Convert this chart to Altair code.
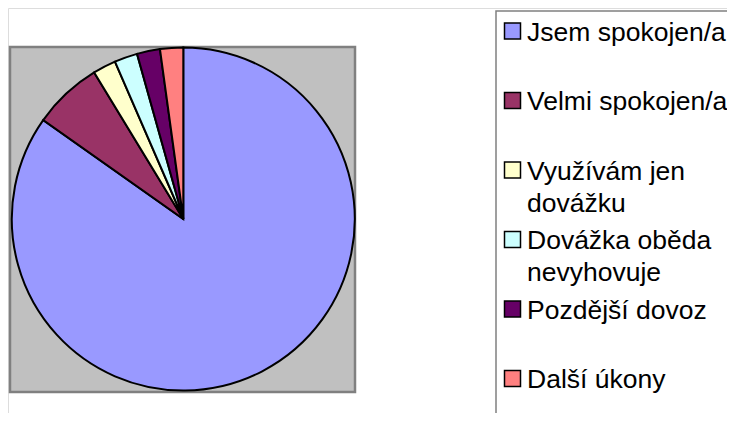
import altair as alt
import pandas as pd

categories = ["Jsem spokojen/a", "Velmi spokojen/a", "Využívám jen dovážku",
              "Dovážka oběda nevyhovuje", "Pozdější dovoz", "Další úkony"]
legend_labels = ["Jsem spokojen/a", "Velmi spokojen/a", "Využívám jen\ndovážku",
                 "Dovážka oběda\nnevyhovuje", "Pozdější dovoz", "Další úkony"]
values = [39, 3, 1, 1, 1, 1]
colors = ["#9999FF", "#993366", "#FFFFCC", "#CCFFFF", "#660066", "#FF8080"]

df = pd.DataFrame({
    "cat": categories,
    "label": legend_labels,
    "value": values,
    "idx": list(range(len(categories))),
})
one = pd.DataFrame({"a": [0]})

FONT = "Liberation Sans"
color_scale = alt.Scale(domain=categories, range=colors)

plot_bg = alt.Chart(one).mark_rect(
    fill="#C0C0C0", stroke="#808080", strokeWidth=2.5
).encode(x=alt.value(2), x2=alt.value(347), y=alt.value(39), y2=alt.value(384))

pie = alt.Chart(df).mark_arc(
    outerRadius=171.5, stroke="black", strokeWidth=2
).encode(
    theta=alt.Theta("value:Q", stack=True),
    color=alt.Color("cat:N", scale=color_scale, legend=None),
    order=alt.Order("idx:Q"),
    x=alt.value(175.3),
    y=alt.value(211),
)

legend_box = alt.Chart(one).mark_rect(
    fillOpacity=0, stroke="#808080", strokeWidth=1.5
).encode(x=alt.value(488), x2=alt.value(900), y=alt.value(3), y2=alt.value(600))

yscale = alt.Scale(type="point", domain=categories, range=[23, 370.5], padding=0)

leg_sq = alt.Chart(df).mark_square(
    size=256, stroke="black", strokeWidth=1.5, opacity=1
).encode(
    x=alt.value(504.5),
    y=alt.Y("cat:N", scale=yscale, axis=None),
    color=alt.Color("cat:N", scale=color_scale, legend=None),
)

leg_txt = alt.Chart(df).mark_text(
    align="left", baseline="alphabetic", dy=9.5, font=FONT, fontSize=26.5,
    lineBreak="\n", lineHeight=32, color="black"
).encode(
    x=alt.value(519),
    y=alt.Y("cat:N", scale=yscale, axis=None),
    text="label:N",
)

chart = alt.layer(plot_bg, pie, legend_box, leg_sq, leg_txt).properties(
    width=719, height=405,
    autosize=alt.AutoSizeParams(type="none"),
    padding=0,
).configure_view(stroke=None).configure(background="white")

chart.save("out.html", embed_options={"renderer": "svg", "actions": False})
